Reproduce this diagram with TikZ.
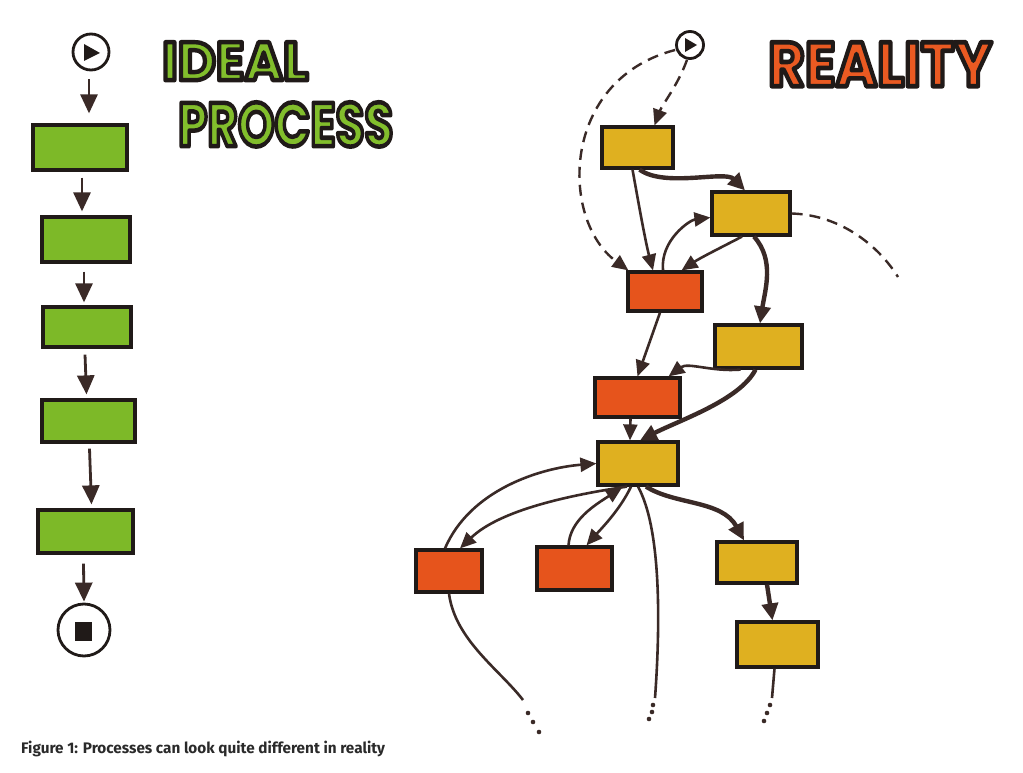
\documentclass[tikz,border=0pt]{standalone}
\usepackage{fontspec}
\usetikzlibrary{arrows.meta,calc}
\newfontfamily\titlefont{Poppins}
\newfontfamily\capfont{Fira Sans}
\definecolor{ink}{HTML}{3A2A27}
\definecolor{outl}{HTML}{201A18}
\definecolor{gfill}{HTML}{7DB928}
\definecolor{yfill}{HTML}{DFB020}
\definecolor{rfill}{HTML}{E6541C}
\definecolor{idealc}{HTML}{82BE2C}
\definecolor{realc}{HTML}{EA5A22}
\definecolor{capc}{HTML}{2A2A2A}
\newcommand\outlined[2]{{\color{#1}\special{pdf:literal direct 2 Tr 4.4 w 1 j 0.125 0.102 0.094 RG}#2\special{pdf:literal direct 0 Tr}}}
\tikzset{
  pbox/.style={draw=outl, line width=3.2pt, rectangle, inner sep=0pt},
  gbox/.style={pbox, fill=gfill},
  ybox/.style={pbox, fill=yfill},
  rbox/.style={pbox, fill=rfill},
  ln/.style={draw=ink, line width=2.6pt},
  arr/.style={ln, -{Triangle[length=16pt,width=14pt]}},
  thk/.style={draw=ink, line width=4.4pt, -{Triangle[length=17pt,width=16pt]}},
  bigarr/.style={draw=ink, line width=2.8pt, -{Triangle[length=19pt,width=17pt]}},
  dsh/.style={draw=ink, line width=2.4pt, dash pattern=on 11pt off 7pt},
  dsharr/.style={dsh, -{Triangle[length=16pt,width=14pt]}},
  dotc/.style={fill=ink, circle, inner sep=0pt, minimum size=4.6pt},
  circ/.style={draw=outl, line width=2.8pt, circle, fill=white, inner sep=0pt},
}
\begin{document}
\begin{tikzpicture}[x=1pt,y=-1pt]
\useasboundingbox[fill=white] (0,0) rectangle (1023,773);

% ---------- titles ----------
\node[anchor=north west, inner sep=0pt] (ideal) at (162,42)
  {\resizebox{146pt}{38pt}{\titlefont\bfseries\fontsize{54}{54}\selectfont\outlined{idealc}{IDEAL}}};
\node[anchor=north west, inner sep=0pt] (process) at (178,102)
  {\resizebox{215pt}{44pt}{\titlefont\bfseries\fontsize{60}{60}\selectfont\outlined{idealc}{PROCESS}}};
\node[anchor=north west, inner sep=0pt] (reality) at (768,42)
  {\resizebox{224pt}{44pt}{\titlefont\bfseries\fontsize{60}{60}\selectfont\outlined{realc}{REALITY}}};

% ---------- ideal process ----------
\node[circ, minimum size=36pt] (s0) at (91,52) {};
\fill[outl] (84,44) -- (84,61) -- (100,53) -- cycle;
\node[gbox, minimum width=94pt, minimum height=45pt] (g1) at (80,147.5) {};
\node[gbox, minimum width=88pt, minimum height=45pt] (g2) at (86,239.5) {};
\node[gbox, minimum width=88pt, minimum height=40pt] (g3) at (87,327) {};
\node[gbox, minimum width=93pt, minimum height=42pt] (g4) at (88.5,421) {};
\node[gbox, minimum width=95pt, minimum height=43pt] (g5) at (85.5,531.5) {};
\node[circ, minimum size=52pt] (e0) at (84,630) {};
\fill[outl] (75,622) rectangle (92,641);

\draw[bigarr] ($(s0.south)+(-2,8)$) -- ($(g1.north)+(9,-10)$);
\draw[bigarr] ($(g1.south)+(2,6)$) -- ($(g2.north)+(-4,-4)$);
\draw[bigarr] ($(g2.south)+(-2,8)$) -- ($(g3.north)+(-3,-3)$);
\draw[bigarr] ($(g3.south)+(-2,6)$) -- ($(g4.north)+(-2,-4)$);
\draw[bigarr] ($(g4.south)+(1,5)$) -- ($(g5.north)+(6,-4)$);
\draw[bigarr] ($(g5.south)+(-2,9)$) -- ($(e0.north)+(0,-1)$);

% ---------- reality ----------
\node[circ, minimum size=27pt] (rs) at (690,45) {};
\fill[outl] (685,38) -- (685,52) -- (697,45) -- cycle;
\node[ybox, minimum width=71pt, minimum height=41pt] (y1) at (637.5,147.5) {};
\node[ybox, minimum width=78pt, minimum height=43pt] (y2) at (751,213.5) {};
\node[rbox, minimum width=74pt, minimum height=39pt] (r1) at (665,291.5) {};
\node[ybox, minimum width=87pt, minimum height=43pt] (y3) at (758.5,346.5) {};
\node[rbox, minimum width=85pt, minimum height=39pt] (r2) at (637.5,397.5) {};
\node[ybox, minimum width=80pt, minimum height=43pt] (y4) at (638,463.5) {};
\node[rbox, minimum width=66pt, minimum height=42pt] (r3) at (449,571) {};
\node[rbox, minimum width=75pt, minimum height=43pt] (r4) at (574.5,568.5) {};
\node[ybox, minimum width=80pt, minimum height=41pt] (y5) at (757,562.5) {};
\node[ybox, minimum width=81pt, minimum height=45pt] (y6) at (777.5,644.5) {};

\coordinate (dend) at (898,277);
\coordinate (f1) at (523,700);
\coordinate (f2) at (655,698);
\coordinate (f3) at (772,698);

% dashed
\draw[dsharr] ($(rs.south)+(-3,0)$) .. controls (678,85) and (662,105) .. ($(y1.north)+(17,0)$);
\draw[dsharr] ($(rs.west)+(0,5)$) .. controls (560,80) and (560,220) .. ($(r1.north west)+(2,0)$);
\draw[dsh] (y2.east) .. controls (840,215) and (878,245) .. (dend);

% solid
\draw[arr] ($(y1.south)+(-5,0)$) .. controls (638,200) and (645,240) .. ($(r1.north)+(-12,0)$);
\draw[thk] ($(y1.south)+(2,0)$) .. controls (665,188) and (725,170) .. ($(y2.north)+(-6,0)$);
\draw[arr] ($(r1.north)+(-2,0)$) .. controls (660,240) and (690,220) .. ($(y2.west)+(0,4)$);
\draw[arr] ($(y2.south)+(-9,0)$) .. controls (720,248) and (700,258) .. ($(r1.north east)+(-22,0)$);
\draw[thk] ($(y2.south)+(3,0)$) .. controls (775,260) and (765,290) .. ($(y3.north)+(1.5,0)$);
\draw[arr] ($(r1.south)+(-5,0)$) -- (r2.north);
\draw[arr] ($(y3.south)+(-18,0)$) .. controls (712,372) and (688,362) .. ($(r2.north east)+(-13,0)$);
\draw[thk] ($(y3.south)+(-3,0)$) .. controls (740,400) and (680,420) .. ($(y4.north)+(2,0)$);
\draw[arr] ($(r2.south)+(-7,0)$) -- ($(y4.north)+(-8,0)$);

\draw[arr] ($(r3.north)+(-4,0)$) .. controls (470,490) and (540,468) .. (y4.west);
\draw[arr] ($(y4.south)+(-11,0)$) .. controls (570,495) and (500,510) .. ($(r3.north)+(11,0)$);
\draw[arr] ($(r4.north)+(-6,0)$) .. controls (570,520) and (595,505) .. ($(y4.south)+(-16,1)$);
\draw[arr] ($(y4.south)+(-7,0)$) .. controls (620,510) and (600,530) .. ($(r4.north)+(12,0)$);
\draw[ln] (y4.south) .. controls (662,530) and (660,630) .. (f2);
\draw[thk] ($(y4.south)+(8,0)$) .. controls (675,505) and (722,500) .. ($(y5.north)+(-13,0)$);
\draw[thk] ($(y5.south)+(10,0)$) -- ($(y6.north)+(-5,0)$);
\draw[ln] ($(y6.south)+(-3,0)$) -- (f3);
\draw[ln] (r3.south) .. controls (455,640) and (500,670) .. (f1);

% trailing dots
\node[dotc] (d11) at (528,713) {};
\node[dotc] (d12) at (533,722) {};
\node[dotc] (d13) at (539,732) {};
\node[dotc] (d21) at (653,705) {};
\node[dotc] (d22) at (652,712) {};
\node[dotc] (d23) at (649,719) {};
\node[dotc] (d31) at (770,705) {};
\node[dotc] (d32) at (767,713) {};
\node[dotc] (d33) at (764,721) {};

% caption
\node[anchor=base west, inner sep=0pt, text=capc] (cap) at (21,753)
  {\capfont\bfseries\fontsize{15.3}{17}\selectfont Figure 1: Processes can look quite different in reality};
\end{tikzpicture}
\end{document}
